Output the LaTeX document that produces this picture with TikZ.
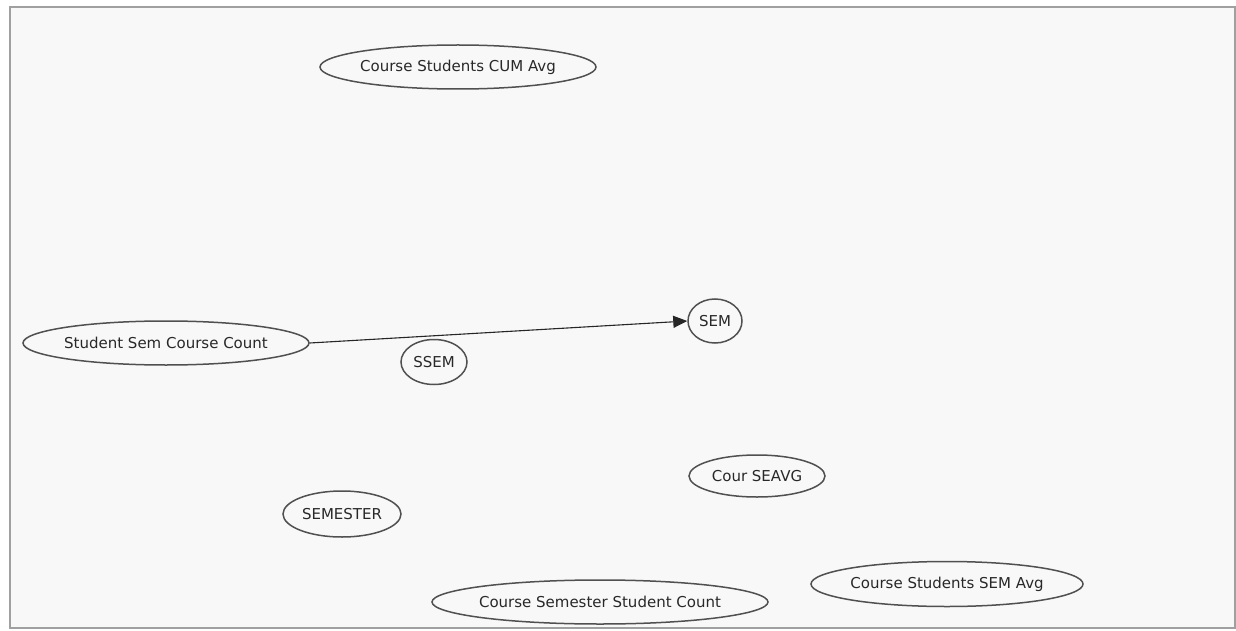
\documentclass[tikz,border=0pt]{standalone}
\usepackage{fontspec}
\setmainfont{DejaVu Sans}
\usetikzlibrary{shapes.geometric,arrows.meta}
\definecolor{panel}{HTML}{F8F8F8}
\definecolor{frameline}{HTML}{A0A0A0}
\definecolor{edgeline}{HTML}{505050}
\definecolor{labeltext}{HTML}{282828}
\begin{document}
\begin{tikzpicture}[x=1pt,y=-1pt,
  entity/.style={ellipse,draw=edgeline,line width=1.5pt,inner xsep=-6pt,inner ysep=0pt,
    text=labeltext,font=\fontsize{15}{17}\selectfont},
  link/.style={draw=black!85,line width=1.1pt,-{Triangle[length=14pt,width=12pt]}}]
  % page and panel
  \useasboundingbox (0,0) rectangle (1236,631);
  \fill[white] (0,0) rectangle (1236,631);
  \filldraw[fill=panel,draw=frameline,line width=2pt] (10,7) rectangle (1235,628);
  % entities
  \node[entity,minimum width=276pt,minimum height=44pt] (cumavg) at (458,67) {Course Students CUM Avg};
  \node[entity,minimum width=286pt,minimum height=44pt] (sscc) at (166,343) {Student Sem Course Count};
  \node[entity,minimum width=54pt,minimum height=44pt] (sem) at (715,321) {SEM};
  \node[entity,minimum width=66pt,minimum height=45pt] (ssem) at (434,362) {SSEM};
  \node[entity,minimum width=136pt,minimum height=42pt] (seavg) at (757,476) {Cour SEAVG};
  \node[entity,minimum width=118pt,minimum height=46pt] (semester) at (342,514) {SEMESTER};
  \node[entity,minimum width=336pt,minimum height=44pt] (cssc) at (600,602) {Course Semester Student Count};
  \node[entity,minimum width=272pt,minimum height=45pt] (semavg) at (947,584) {Course Students SEM Avg};
  % relation
  \draw[link] (sscc.east) -- (sem.west);
\end{tikzpicture}
\end{document}
